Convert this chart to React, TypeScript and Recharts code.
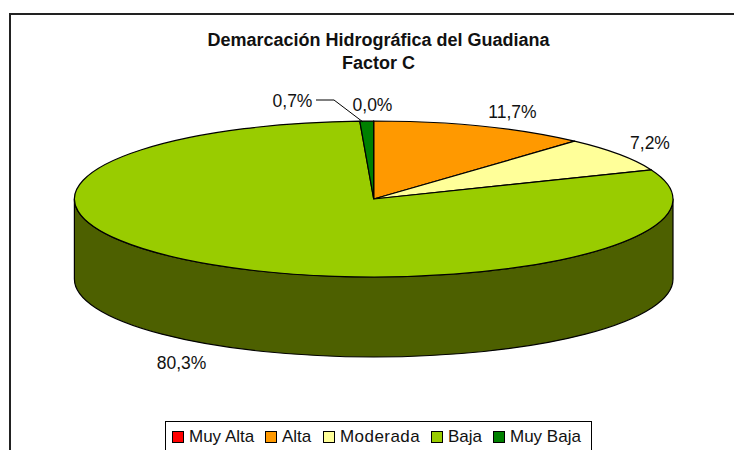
import { Legend, Pie, PieChart } from "recharts";

const categories = ["Muy Alta", "Alta", "Moderada", "Baja", "Muy Baja"];
const shares = [0.0, 11.7, 7.2, 80.3, 0.74];
const shareLabels = ["0,0%", "11,7%", "7,2%", "80,3%", "0,7%"];
const colors = ["#ff0000", "#ff9900", "#ffff99", "#99cc00", "#008000"];

const pieData = categories.map((name, i) => ({
  name,
  value: shares[i],
  label: shareLabels[i],
  fill: colors[i],
}));

const CX = 373.7;
const CY = 199;
const RX = 299.3;
const RY = 78;
const DEPTH = 80;
const SIDE_COLOR = "#4d6000";

// Pie is computed on a circle, we squash it into the tilted ellipse
const pointAt = (deg: number, dy = 0) => {
  const rad = (deg * Math.PI) / 180;
  return [CX + RX * Math.cos(rad), CY + dy - RY * Math.sin(rad)];
};

function TopSlice({ startAngle, endAngle, fill }: any) {
  const [x1, y1] = pointAt(startAngle);
  const [x2, y2] = pointAt(endAngle);
  const large = Math.abs(startAngle - endAngle) > 180 ? 1 : 0;
  return (
    <path
      d={`M${CX},${CY} L${x1},${y1} A${RX},${RY} 0 ${large} 1 ${x2},${y2} Z`}
      fill={fill}
      stroke="#000"
      strokeWidth={1.2}
      strokeLinejoin="round"
    />
  );
}

// Side wall: only the part of a slice that sits on the front half
function SideSlice({ startAngle, endAngle }: any) {
  const from = Math.min(startAngle, 0);
  const to = Math.max(endAngle, -180);
  if (from <= to) return null;
  const [x1, y1] = pointAt(from);
  const [x2, y2] = pointAt(to);
  const [x3, y3] = pointAt(to, DEPTH);
  const [x4, y4] = pointAt(from, DEPTH);
  return (
    <path
      d={`M${x1},${y1} A${RX},${RY} 0 0 1 ${x2},${y2} L${x3},${y3} A${RX},${RY} 0 0 0 ${x4},${y4} Z`}
      fill={SIDE_COLOR}
      stroke="#000"
      strokeWidth={1.2}
      strokeLinejoin="round"
    />
  );
}

const labelSpots: Record<string, [number, number]> = {
  "0,0%": [372.5, 111],
  "11,7%": [512.5, 118],
  "7,2%": [650, 149],
  "80,3%": [181.5, 369],
  "0,7%": [292.5, 107],
};

function SliceLabel({ index }: any) {
  const text = shareLabels[index];
  const [x, y] = labelSpots[text];
  return (
    <g>
      {text === "0,7%" && (
        <polyline points="316,100 334,100 363,122" fill="none" stroke="#000" strokeWidth={1} />
      )}
      <text x={x} y={y} textAnchor="middle" fontSize={17.5} fill="#111">
        {text}
      </text>
    </g>
  );
}

// Widths of the legend entries, swatch included
const legendWidths = [93, 58, 108, 62, 90];

function LegendBox() {
  return (
    <div
      style={{
        boxSizing: "border-box",
        width: 427,
        height: 40,
        border: "1px solid #000",
        display: "flex",
        alignItems: "flex-start",
        whiteSpace: "nowrap",
        paddingLeft: 6,
        paddingTop: 5,
        fontSize: 17,
        lineHeight: "20px",
        color: "#111",
        background: "#fff",
      }}
    >
      {categories.map((name, i) => (
        <span
          key={name}
          style={{
            display: "flex",
            alignItems: "center",
            width: legendWidths[i],
            letterSpacing: name === "Moderada" ? 0.45 : 0,
          }}
        >
          <span
            style={{
              boxSizing: "border-box",
              width: 12,
              height: 12,
              border: "1px solid #000",
              background: colors[i],
              marginRight: 5,
            }}
          />
          {name}
        </span>
      ))}
    </div>
  );
}

export default function App() {
  return (
    <div
      style={{
        position: "fixed",
        left: 0,
        top: 0,
        width: 734,
        height: 450,
        overflow: "hidden",
        background: "#fff",
        fontFamily: "'Liberation Sans', Arial, sans-serif",
      }}
    >
      <div
        style={{
          position: "absolute",
          left: 9,
          top: 13,
          width: 725,
          height: 437,
          borderLeft: "2px solid #222",
          borderTop: "2px solid #222",
          boxSizing: "border-box",
        }}
      />
      <div style={{ position: "absolute", left: 0, top: 0 }}>
        <PieChart width={734} height={450} margin={{ top: 0, right: 0, bottom: 0, left: 0 }}>
          <text x={378.5} y={46} textAnchor="middle" fontSize={18} fontWeight="bold" fill="#111">
            Demarcación Hidrográfica del Guadiana
          </text>
          <text x={378.5} y={69} textAnchor="middle" fontSize={18} fontWeight="bold" fill="#111">
            Factor C
          </text>
          <Pie
            data={pieData}
            dataKey="value"
            nameKey="name"
            cx={CX}
            cy={CY}
            outerRadius={RX}
            startAngle={90}
            endAngle={-270}
            paddingAngle={0}
            legendType="none"
            shape={SideSlice}
            isAnimationActive={false}
          />
          <Pie
            data={pieData}
            dataKey="value"
            nameKey="name"
            cx={CX}
            cy={CY}
            outerRadius={RX}
            startAngle={90}
            endAngle={-270}
            paddingAngle={0}
            shape={TopSlice}
            label={SliceLabel}
            labelLine={false}
            isAnimationActive={false}
          />
          <Legend
            content={LegendBox}
            wrapperStyle={{ position: "absolute", left: 165, top: 421, width: 427 }}
          />
        </PieChart>
      </div>
    </div>
  );
}
